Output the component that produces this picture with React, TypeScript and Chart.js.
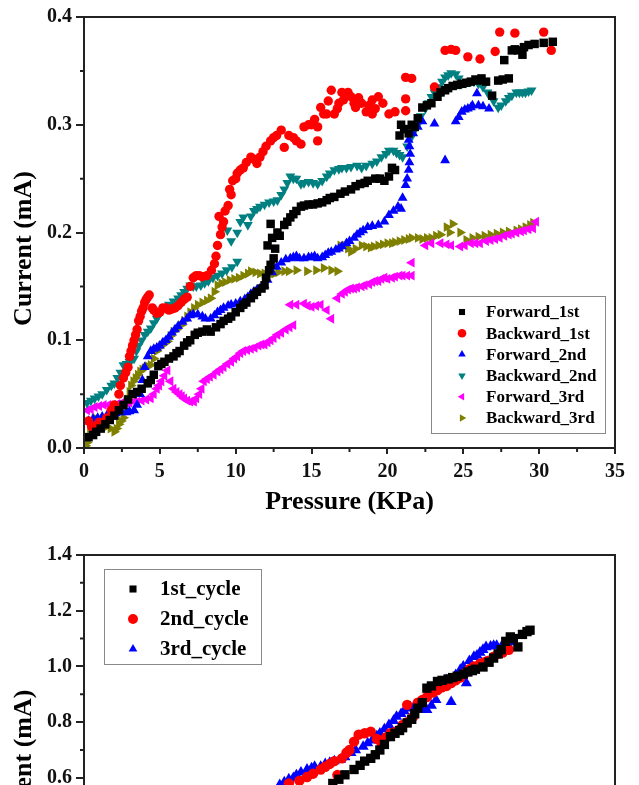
import React, { useEffect, useRef } from 'react';
import { Chart, registerables } from 'chart.js';

Chart.register(...registerables);

type Pt = [number, number];

// ---------- Top chart data (Pressure KPa, Current mA) ----------
const forward1st: Pt[] = [
  [0.3, 0.01], [0.8, 0.015], [1.4, 0.022], [2.0, 0.03], [2.6, 0.04], [3.2, 0.05], [3.8, 0.055], [4.2, 0.06],
  [4.6, 0.068], [4.9, 0.076], [5.3, 0.08], [5.9, 0.085], [6.3, 0.09], [6.6, 0.095], [7.0, 0.1], [7.3, 0.105],
  [7.8, 0.108], [8.35, 0.108], [8.7, 0.112], [9.0, 0.115], [9.5, 0.12], [10.0, 0.126], [10.3, 0.13], [10.7, 0.135],
  [11.0, 0.139], [11.4, 0.145], [11.9, 0.151], [12.2, 0.165], [12.5, 0.176], [12.1, 0.188], [12.4, 0.195], [12.75, 0.2],
  [13.2, 0.207], [12.3, 0.208], [13.6, 0.214], [14.0, 0.22], [14.3, 0.224], [14.8, 0.226], [15.4, 0.227], [16.0, 0.23],
  [16.5, 0.233], [16.9, 0.236], [17.6, 0.24], [18.2, 0.245], [18.7, 0.248], [19.2, 0.25], [19.8, 0.248], [20.5, 0.258],
  [20.8, 0.29], [20.9, 0.3], [21.4, 0.292], [21.8, 0.298], [22.3, 0.316], [22.9, 0.32], [23.3, 0.326], [23.8, 0.332],
  [24.3, 0.336], [24.9, 0.338], [25.5, 0.34], [26.0, 0.341], [26.5, 0.34], [26.9, 0.327], [27.3, 0.341], [28.0, 0.343],
  [27.7, 0.36], [28.2, 0.369], [28.6, 0.369], [28.9, 0.365], [29.7, 0.375], [30.9, 0.377],
  [0.6, 0.012], [1.1, 0.018], [1.7, 0.026], [2.3, 0.035], [2.9, 0.045], [3.5, 0.052], [4.4, 0.063], [5.1, 0.078],
  [5.6, 0.083], [6.1, 0.088], [6.8, 0.098], [7.5, 0.107], [8.1, 0.11], [9.2, 0.118], [9.7, 0.122], [10.5, 0.133],
  [11.2, 0.142], [11.7, 0.148], [12.0, 0.158], [12.3, 0.17], [12.6, 0.185], [12.9, 0.197], [13.4, 0.21], [13.8, 0.217],
  [14.5, 0.225], [15.1, 0.226], [15.7, 0.228], [16.2, 0.232], [17.2, 0.238], [17.9, 0.243], [18.5, 0.246], [19.5, 0.25],
  [20.1, 0.252], [20.3, 0.26], [21.1, 0.296], [21.6, 0.3], [22.0, 0.306], [22.6, 0.318], [23.5, 0.33], [24.0, 0.334],
  [24.6, 0.337], [25.2, 0.339], [25.8, 0.342], [26.2, 0.343], [27.6, 0.342], [28.4, 0.37], [29.0, 0.372], [29.3, 0.374],
  [30.3, 0.376],
];

const backward1st: Pt[] = [
  [0.3, 0.025], [0.8, 0.02], [1.3, 0.022], [1.8, 0.035], [2.3, 0.05], [2.6, 0.065], [2.9, 0.075], [3.1, 0.09],
  [3.3, 0.1], [3.5, 0.11], [3.7, 0.122], [3.9, 0.13], [4.1, 0.138], [4.3, 0.142], [4.5, 0.13], [4.8, 0.125],
  [5.2, 0.13], [5.6, 0.128], [6.0, 0.13], [6.4, 0.135], [6.8, 0.14], [7.2, 0.158], [7.6, 0.16], [8.1, 0.16],
  [8.6, 0.171], [8.8, 0.188], [9.0, 0.198], [9.2, 0.21], [8.9, 0.215], [9.5, 0.225], [9.7, 0.235], [9.8, 0.248],
  [10.1, 0.255], [10.5, 0.26], [11.0, 0.27], [11.4, 0.264], [11.8, 0.275], [12.3, 0.285], [12.7, 0.29], [13.0, 0.295],
  [13.2, 0.279], [13.8, 0.288], [14.3, 0.282], [14.5, 0.298], [15.0, 0.3], [15.4, 0.298], [15.6, 0.316], [15.4, 0.285],
  [16.0, 0.31], [16.3, 0.332], [16.5, 0.31], [16.8, 0.32], [17.1, 0.323], [17.4, 0.33], [17.6, 0.326], [17.9, 0.316],
  [18.3, 0.32], [18.6, 0.312], [19.0, 0.323], [19.0, 0.31], [19.4, 0.326], [20.1, 0.31], [21.2, 0.324], [21.2, 0.313],
  [21.2, 0.344], [21.6, 0.343], [23.1, 0.335], [23.8, 0.369], [24.2, 0.37], [24.5, 0.369], [25.3, 0.363], [26.1, 0.361],
  [27.1, 0.368], [27.4, 0.386], [28.4, 0.385], [30.3, 0.386], [30.8, 0.369],
  [0.5, 0.02], [1.0, 0.024], [1.5, 0.028], [2.0, 0.04], [2.4, 0.058], [2.75, 0.07], [3.0, 0.085], [3.2, 0.095],
  [3.4, 0.105], [3.6, 0.118], [3.8, 0.127], [4.0, 0.135], [4.2, 0.14], [4.6, 0.128], [5.0, 0.126], [5.4, 0.13],
  [5.8, 0.129], [6.2, 0.132], [6.6, 0.138], [7.0, 0.15], [7.4, 0.16], [7.8, 0.159], [8.4, 0.165], [8.7, 0.178],
  [9.1, 0.205], [9.3, 0.22], [9.6, 0.24], [10.0, 0.25], [10.3, 0.258], [10.7, 0.265], [11.2, 0.268], [11.6, 0.27],
  [12.0, 0.28], [12.5, 0.288], [13.5, 0.29], [14.0, 0.285], [14.8, 0.3], [15.2, 0.305], [15.8, 0.31], [16.1, 0.322],
  [16.7, 0.315], [17.0, 0.33], [17.8, 0.32], [18.1, 0.325], [18.8, 0.318], [19.2, 0.315], [19.7, 0.32], [20.5, 0.312],
];

const forward2nd: Pt[] = [
  [0.3, 0.025], [0.9, 0.028], [1.5, 0.03], [2.1, 0.032], [2.8, 0.033], [3.3, 0.035], [3.7, 0.05], [4.0, 0.075],
  [4.4, 0.09], [4.8, 0.093], [5.2, 0.098], [5.6, 0.103], [6.0, 0.11], [6.5, 0.117], [7.0, 0.123], [7.5, 0.124],
  [8.0, 0.12], [8.35, 0.12], [8.8, 0.126], [9.2, 0.13], [9.7, 0.133], [10.3, 0.136], [10.8, 0.14], [11.2, 0.145],
  [11.6, 0.148], [11.9, 0.151], [12.4, 0.163], [13.0, 0.172], [13.6, 0.176], [14.0, 0.178], [14.5, 0.176], [15.0, 0.177],
  [15.4, 0.176], [15.9, 0.179], [16.3, 0.182], [16.8, 0.185], [17.3, 0.19], [17.8, 0.195], [18.2, 0.2], [18.7, 0.205],
  [19.4, 0.207], [20.1, 0.216], [20.7, 0.224], [20.9, 0.222], [21.2, 0.244], [21.4, 0.258], [21.5, 0.273], [21.4, 0.286],
  [22.0, 0.298], [22.3, 0.303], [23.1, 0.301], [23.8, 0.267], [24.5, 0.303], [24.9, 0.312], [25.3, 0.315], [25.6, 0.318],
  [26.0, 0.318], [26.7, 0.315], [25.9, 0.329],
  [0.6, 0.027], [1.2, 0.029], [1.8, 0.031], [2.5, 0.033], [3.0, 0.034], [3.5, 0.04], [3.85, 0.063], [4.2, 0.085],
  [4.6, 0.092], [5.0, 0.095], [5.4, 0.1], [5.8, 0.107], [6.2, 0.113], [6.8, 0.12], [7.2, 0.124], [7.8, 0.122],
  [8.6, 0.123], [9.0, 0.128], [9.5, 0.132], [10.0, 0.134], [10.6, 0.138], [11.0, 0.143], [11.4, 0.147], [12.1, 0.156],
  [12.7, 0.168], [13.3, 0.175], [13.8, 0.177], [14.2, 0.176], [14.8, 0.177], [15.2, 0.178], [15.7, 0.177], [16.1, 0.181],
  [16.6, 0.184], [17.0, 0.187], [17.5, 0.192], [18.0, 0.198], [18.4, 0.202], [19.0, 0.206], [19.8, 0.21], [20.4, 0.22],
  [21.0, 0.232], [21.3, 0.25], [21.45, 0.265], [21.45, 0.28], [21.7, 0.292], [24.7, 0.307], [25.1, 0.314], [25.5, 0.316],
  [26.3, 0.317],
];

const backward2nd: Pt[] = [
  [0.2, 0.042], [0.7, 0.046], [1.2, 0.05], [1.8, 0.058], [2.2, 0.065], [2.6, 0.077], [3.0, 0.08], [3.3, 0.083],
  [3.6, 0.095], [4.0, 0.105], [4.4, 0.111], [4.8, 0.12], [5.1, 0.127], [5.6, 0.133], [6.2, 0.139], [6.6, 0.145],
  [7.0, 0.151], [7.4, 0.15], [7.7, 0.151], [8.2, 0.155], [8.8, 0.16], [9.4, 0.165], [10.1, 0.173], [9.7, 0.192],
  [10.1, 0.2], [9.45, 0.202], [10.5, 0.214], [10.8, 0.207], [11.2, 0.22], [11.6, 0.224], [12.2, 0.228], [12.75, 0.23],
  [13.2, 0.24], [13.6, 0.252], [14.0, 0.25], [14.3, 0.245], [14.8, 0.247], [15.4, 0.245], [16.0, 0.252], [16.5, 0.258],
  [17.0, 0.26], [17.6, 0.261], [18.3, 0.26], [19.0, 0.264], [19.6, 0.27], [20.1, 0.276], [20.6, 0.274], [21.0, 0.27],
  [21.6, 0.289], [22.0, 0.3], [22.5, 0.315], [22.9, 0.326], [23.4, 0.335], [23.8, 0.344], [24.2, 0.348], [24.5, 0.347],
  [24.9, 0.338], [25.5, 0.34], [26.0, 0.338], [26.6, 0.33], [27.3, 0.316], [27.8, 0.322], [28.2, 0.327], [28.7, 0.33],
  [29.1, 0.33], [29.5, 0.332],
  [0.45, 0.044], [0.95, 0.048], [1.5, 0.054], [2.0, 0.06], [2.4, 0.07], [2.8, 0.078], [3.15, 0.082], [3.45, 0.09],
  [3.8, 0.1], [4.2, 0.108], [4.6, 0.116], [4.95, 0.124], [5.35, 0.13], [5.9, 0.136], [6.4, 0.142], [6.8, 0.148],
  [7.2, 0.15], [7.95, 0.153], [8.5, 0.158], [9.1, 0.162], [9.75, 0.168], [10.3, 0.21], [11.0, 0.215], [11.4, 0.222],
  [11.9, 0.226], [12.5, 0.229], [13.0, 0.235], [13.4, 0.246], [13.8, 0.25], [14.5, 0.246], [15.1, 0.246], [15.7, 0.248],
  [16.2, 0.255], [16.8, 0.259], [17.3, 0.26], [18.0, 0.262], [18.6, 0.262], [19.3, 0.266], [19.9, 0.273], [20.4, 0.276],
  [20.8, 0.272], [21.3, 0.28], [21.8, 0.295], [22.2, 0.308], [22.7, 0.32], [23.1, 0.33], [23.6, 0.34], [24.0, 0.346],
  [24.7, 0.343], [25.2, 0.339], [25.7, 0.34], [26.3, 0.335], [27.0, 0.322], [27.5, 0.318], [28.0, 0.325], [28.5, 0.33],
  [28.9, 0.33], [29.3, 0.331],
];

const forward3rd: Pt[] = [
  [0.2, 0.035], [0.7, 0.038], [1.3, 0.04], [1.9, 0.04], [2.5, 0.042], [3.0, 0.042], [3.3, 0.043], [3.8, 0.044],
  [4.4, 0.046], [4.8, 0.055], [5.1, 0.062], [5.5, 0.072], [5.9, 0.055], [6.3, 0.05], [6.6, 0.046], [7.0, 0.043],
  [7.25, 0.043], [7.6, 0.05], [7.9, 0.062], [8.3, 0.066], [8.8, 0.071], [9.2, 0.075], [9.7, 0.08], [10.1, 0.085],
  [10.5, 0.09], [11.0, 0.092], [11.5, 0.095], [11.9, 0.096], [12.3, 0.1], [12.75, 0.105], [13.3, 0.11], [13.8, 0.114],
  [13.6, 0.133], [14.5, 0.134], [15.0, 0.131], [15.6, 0.133], [16.0, 0.128], [16.3, 0.12], [16.7, 0.139], [17.2, 0.145],
  [17.6, 0.148], [18.0, 0.149], [18.5, 0.151], [19.0, 0.154], [19.4, 0.155], [19.8, 0.158], [20.3, 0.158], [20.8, 0.16],
  [21.3, 0.16], [21.6, 0.16], [21.6, 0.172], [22.5, 0.188], [23.5, 0.19], [24.2, 0.188], [24.8, 0.187], [25.5, 0.19],
  [26.1, 0.19], [26.8, 0.193], [27.4, 0.195], [28.0, 0.198], [28.5, 0.2], [29.0, 0.202], [29.6, 0.204], [29.8, 0.21],
  [0.45, 0.036], [1.0, 0.039], [1.6, 0.04], [2.2, 0.041], [2.8, 0.042], [3.5, 0.043], [4.1, 0.045], [4.6, 0.05],
  [4.95, 0.058], [5.3, 0.067], [5.7, 0.062], [6.1, 0.052], [6.45, 0.048], [6.8, 0.044], [7.4, 0.046], [7.75, 0.055],
  [8.1, 0.064], [8.55, 0.068], [9.0, 0.073], [9.45, 0.078], [9.9, 0.083], [10.3, 0.088], [10.75, 0.091], [11.25, 0.093],
  [11.7, 0.096], [12.1, 0.098], [12.5, 0.102], [13.0, 0.107], [13.55, 0.112], [14.0, 0.133], [14.75, 0.132], [15.3, 0.132],
  [17.0, 0.143], [17.4, 0.147], [17.8, 0.148], [18.3, 0.15], [18.8, 0.152], [19.2, 0.155], [19.6, 0.157], [20.0, 0.157],
  [20.5, 0.159], [21.0, 0.16], [22.9, 0.19], [23.9, 0.189], [25.1, 0.188], [25.8, 0.19], [26.5, 0.192], [27.1, 0.194],
  [27.7, 0.197], [28.2, 0.199], [28.8, 0.201], [29.3, 0.203],
];

const backward3rd: Pt[] = [
  [0.2, 0.005], [0.4, 0.015], [0.7, 0.028], [1.1, 0.022], [1.5, 0.02], [2.0, 0.015], [2.3, 0.022], [2.6, 0.028],
  [2.9, 0.045], [3.1, 0.058], [3.4, 0.065], [3.7, 0.071], [4.0, 0.074], [4.4, 0.077], [4.8, 0.09], [5.1, 0.095],
  [5.5, 0.099], [5.9, 0.108], [6.4, 0.114], [6.8, 0.122], [7.25, 0.13], [7.8, 0.135], [8.35, 0.139], [8.8, 0.151],
  [9.3, 0.154], [9.9, 0.157], [10.5, 0.16], [11.0, 0.164], [11.6, 0.162], [12.3, 0.161], [12.8, 0.163], [13.2, 0.164],
  [14.0, 0.165], [14.7, 0.164], [15.3, 0.165], [15.8, 0.167], [16.3, 0.165], [16.7, 0.164], [16.9, 0.188], [17.2, 0.188],
  [17.6, 0.182], [18.3, 0.188], [18.9, 0.186], [19.4, 0.188], [20.0, 0.19], [20.5, 0.191], [21.1, 0.193], [21.6, 0.195],
  [22.3, 0.194], [22.9, 0.195], [23.5, 0.198], [23.9, 0.205], [24.3, 0.208], [24.8, 0.2], [25.2, 0.193], [26.0, 0.196],
  [26.8, 0.198], [27.6, 0.2], [28.5, 0.202], [29.1, 0.205], [29.6, 0.209],
  [0.1, 0.002], [0.3, 0.01], [0.55, 0.022], [0.9, 0.025], [1.3, 0.021], [1.75, 0.018], [2.15, 0.018], [2.45, 0.025],
  [2.75, 0.035], [3.0, 0.052], [3.25, 0.062], [3.55, 0.068], [3.85, 0.073], [4.2, 0.076], [4.6, 0.083], [4.95, 0.093],
  [5.3, 0.097], [5.7, 0.104], [6.1, 0.11], [6.6, 0.118], [7.0, 0.126], [7.5, 0.133], [8.1, 0.137], [8.6, 0.145],
  [9.05, 0.153], [9.6, 0.156], [10.2, 0.158], [10.8, 0.162], [11.3, 0.163], [11.9, 0.162], [12.55, 0.162], [13.5, 0.164],
  [17.4, 0.185], [17.9, 0.185], [18.6, 0.187], [19.1, 0.187], [19.7, 0.189], [20.3, 0.19], [20.8, 0.192], [21.4, 0.194],
  [22.0, 0.195], [22.6, 0.195], [23.2, 0.197], [24.1, 0.2], [25.6, 0.195], [26.4, 0.197], [27.2, 0.199], [28.0, 0.201],
  [28.8, 0.203], [29.4, 0.207],
];

// ---------- Bottom chart data ----------
const cycle1st: Pt[] = [
  [16.4, 0.58], [17.2, 0.611], [17.8, 0.63], [18.5, 0.66], [19.2, 0.683], [19.8, 0.72], [20.2, 0.748], [20.8, 0.77],
  [21.3, 0.797], [21.8, 0.83], [22.3, 0.87], [22.6, 0.922], [23.3, 0.946], [24.0, 0.955], [24.6, 0.965], [25.3, 0.98],
  [25.8, 0.99], [26.3, 0.998], [27.0, 1.03], [27.5, 1.06], [28.1, 1.106], [28.6, 1.07], [28.9, 1.115], [29.2, 1.125],
  [29.4, 1.13],
  [16.8, 0.595], [18.2, 0.645], [18.9, 0.67], [19.5, 0.7], [20.5, 0.76], [21.0, 0.78], [21.6, 0.81], [22.0, 0.85],
  [22.9, 0.93], [23.6, 0.95], [24.3, 0.96], [25.0, 0.972], [25.6, 0.985], [26.7, 1.015], [27.3, 1.045], [27.8, 1.09],
  [28.3, 1.1],
];

const cycle2nd: Pt[] = [
  [13.5, 0.58], [14.7, 0.603], [15.6, 0.63], [16.2, 0.65], [16.7, 0.61], [17.0, 0.67], [17.5, 0.7], [18.1, 0.755],
  [18.9, 0.766], [19.6, 0.725], [20.2, 0.76], [20.8, 0.773], [21.3, 0.8], [21.7, 0.82], [21.3, 0.862], [22.3, 0.88],
  [23.0, 0.906], [23.6, 0.925], [24.2, 0.94], [24.8, 0.96], [25.4, 0.99], [26.1, 1.01], [26.6, 1.02], [27.0, 1.035],
  [27.6, 1.05], [28.0, 1.06],
  [14.2, 0.59], [15.1, 0.615], [15.9, 0.64], [16.5, 0.66], [17.3, 0.69], [17.8, 0.73], [18.5, 0.76], [19.3, 0.74],
  [19.9, 0.745], [20.5, 0.765], [21.0, 0.79], [22.0, 0.87], [22.6, 0.89], [23.3, 0.915], [23.9, 0.93], [24.5, 0.95],
  [25.1, 0.975], [25.7, 1.0], [26.4, 1.015], [27.3, 1.045],
];

const cycle3rd: Pt[] = [
  [12.9, 0.575], [13.5, 0.595], [14.0, 0.61], [14.7, 0.63], [15.2, 0.64], [15.6, 0.64], [16.2, 0.655], [16.9, 0.665],
  [17.6, 0.69], [18.4, 0.712], [19.0, 0.735], [19.5, 0.76], [20.1, 0.79], [20.6, 0.82], [21.1, 0.84], [21.5, 0.855],
  [22.0, 0.85], [22.6, 0.844], [23.2, 0.88], [23.9, 0.952], [24.2, 0.873], [24.8, 0.988], [25.2, 0.94], [25.7, 1.035],
  [26.1, 1.05], [26.5, 1.07], [27.0, 1.075], [27.5, 1.07], [27.9, 1.084], [28.3, 1.09],
  [13.2, 0.585], [13.8, 0.6], [14.3, 0.62], [15.0, 0.635], [15.9, 0.65], [16.5, 0.66], [17.2, 0.675], [17.9, 0.7],
  [18.7, 0.725], [19.3, 0.75], [19.8, 0.775], [20.4, 0.805], [20.9, 0.83], [21.3, 0.85], [21.8, 0.86], [22.3, 0.845],
  [22.9, 0.86], [23.5, 0.93], [24.5, 0.97], [25.0, 1.0], [25.4, 1.02], [25.9, 1.04], [26.3, 1.06], [26.8, 1.072],
  [27.2, 1.075], [27.7, 1.078], [28.1, 1.088],
];

// ---------- Ticks ----------
const xTicks = [0, 5, 10, 15, 20, 25, 30, 35];
const xMinor = [2.5, 7.5, 12.5, 17.5, 22.5, 27.5, 32.5];
const topYTicks = [0, 0.1, 0.2, 0.3, 0.4];
const topYMinor = [0.05, 0.15, 0.25, 0.35];
const botYTicks = [0, 0.2, 0.4, 0.6, 0.8, 1.0, 1.2, 1.4];
const botYMinor = [0.1, 0.3, 0.5, 0.7, 0.9, 1.1, 1.3];

const SERIF = "'Liberation Serif', 'Times New Roman', serif";

function drawMarker(ctx: CanvasRenderingContext2D, style: string, x: number, y: number, r: number, rot: number, color: string) {
  ctx.save();
  ctx.fillStyle = color;
  ctx.translate(x, y);
  ctx.rotate((rot * Math.PI) / 180);
  ctx.beginPath();
  if (style === 'rect') {
    const s = r * Math.SQRT1_2;
    ctx.rect(-s, -s, 2 * s, 2 * s);
  } else if (style === 'circle') {
    ctx.arc(0, 0, r, 0, Math.PI * 2);
  } else {
    for (let i = 0; i < 3; i++) {
      const a = (i * 2 * Math.PI) / 3;
      const px = Math.sin(a) * r;
      const py = -Math.cos(a) * r;
      if (i === 0) ctx.moveTo(px, py);
      else ctx.lineTo(px, py);
    }
    ctx.closePath();
  }
  ctx.fill();
  ctx.restore();
}

const originPlugin = {
  id: 'origin',
  afterDraw(chart: any) {
    const o = chart.options.plugins.origin;
    if (!o) return;
    const { ctx, chartArea: a } = chart;
    const xs = chart.scales.x;
    const ys = chart.scales.y;
    ctx.save();
    ctx.strokeStyle = '#222';
    ctx.lineWidth = 2;
    ctx.strokeRect(a.left, a.top, a.right - a.left, a.bottom - a.top);
    ctx.beginPath();
    for (const v of o.xMinor) {
      const px = xs.getPixelForValue(v);
      ctx.moveTo(px, a.bottom);
      ctx.lineTo(px, a.bottom + 4);
    }
    for (const v of o.yMinor) {
      const py = ys.getPixelForValue(v);
      ctx.moveTo(a.left, py);
      ctx.lineTo(a.left - 4, py);
    }
    ctx.stroke();
    ctx.save();
    ctx.fillStyle = '#000';
    ctx.font = `bold ${o.yTitleSize}px ${SERIF}`;
    ctx.textAlign = 'center';
    ctx.textBaseline = 'middle';
    ctx.translate(o.yTitleX, (a.top + a.bottom) / 2 + o.yTitleDy);
    ctx.rotate(-Math.PI / 2);
    ctx.fillText(o.yTitle, 0, 0);
    ctx.restore();
    const L = o.legend;
    ctx.fillStyle = '#fff';
    ctx.fillRect(L.left, L.top, L.width, L.height);
    ctx.strokeStyle = '#888';
    ctx.lineWidth = 1;
    ctx.strokeRect(L.left + 0.5, L.top + 0.5, L.width, L.height);
    ctx.font = `bold ${L.fontSize}px ${SERIF}`;
    ctx.textAlign = 'left';
    ctx.textBaseline = 'middle';
    chart.data.datasets.forEach((ds: any, i: number) => {
      const y = L.firstRow + i * L.rowGap;
      drawMarker(ctx, ds.pointStyle, L.markerX, y, L.markerR, ds.pointRotation || 0, ds.backgroundColor);
      ctx.fillStyle = '#000';
      ctx.fillText(ds.label, L.textX, y + 1);
    });
    ctx.restore();
  },
};

function makeDataset(label: string, pts: Pt[], color: string, style: string, rotation: number, radius: number) {
  return {
    label,
    data: pts.map(([x, y]) => ({ x, y })),
    backgroundColor: color,
    borderColor: color,
    borderWidth: 0,
    pointBorderWidth: 0,
    pointStyle: style,
    pointRotation: rotation,
    pointRadius: radius,
    pointHoverRadius: radius,
    showLine: false,
    clip: 0,
  };
}

function makeOptions(cfg: any) {
  const tickFont = { family: SERIF, size: 20, weight: 'bold' as const };
  return {
    responsive: false,
    animation: false as const,
    devicePixelRatio: 1,
    events: [],
    layout: { padding: { left: 0, right: 24, top: cfg.padTop, bottom: 0 } },
    plugins: {
      legend: { display: false },
      tooltip: { enabled: false },
      origin: cfg.origin,
    },
    scales: {
      x: {
        type: 'linear' as const,
        min: 0,
        max: 35,
        afterBuildTicks: (s: any) => {
          s.ticks = xTicks.map((value) => ({ value }));
        },
        afterFit: (s: any) => {
          s.height = cfg.xHeight;
        },
        ticks: {
          autoSkip: false,
          maxRotation: 0,
          color: '#111',
          font: tickFont,
          padding: 6,
          callback: (v: any) => String(v),
        },
        grid: { drawOnChartArea: false, drawTicks: true, tickLength: 6, color: '#222', lineWidth: 2 },
        border: { display: false },
        title: {
          display: true,
          text: 'Pressure (KPa)',
          color: '#000',
          font: { family: SERIF, size: 26, weight: 'bold' as const },
          padding: { top: 0, bottom: 7 },
        },
      },
      y: {
        type: 'linear' as const,
        min: cfg.yMin,
        max: cfg.yMax,
        afterBuildTicks: (s: any) => {
          s.ticks = cfg.yTicks.map((value: number) => ({ value }));
        },
        afterFit: (s: any) => {
          s.width = 84;
        },
        ticks: {
          autoSkip: false,
          color: '#111',
          font: tickFont,
          padding: 4,
          callback: (v: any) => Number(v).toFixed(1),
        },
        grid: { drawOnChartArea: false, drawTicks: true, tickLength: 8, color: '#222', lineWidth: 2 },
        border: { display: false },
      },
    },
  };
}

export default function App() {
  const topRef = useRef<HTMLCanvasElement | null>(null);
  const botRef = useRef<HTMLCanvasElement | null>(null);

  useEffect(() => {
    const top = new Chart(topRef.current as HTMLCanvasElement, {
      type: 'scatter',
      data: {
        datasets: [
          makeDataset('Forward_1st', forward1st, '#000000', 'rect', 0, 6.0),
          makeDataset('Backward_1st', backward1st, '#ff0000', 'circle', 0, 4.7),
          makeDataset('Forward_2nd', forward2nd, '#0000ff', 'triangle', 0, 5.7),
          makeDataset('Backward_2nd', backward2nd, '#008080', 'triangle', 180, 5.7),
          makeDataset('Forward_3rd', forward3rd, '#ff00ff', 'triangle', 270, 5.7),
          makeDataset('Backward_3rd', backward3rd, '#808000', 'triangle', 90, 5.7),
        ] as any,
      },
      options: makeOptions({
        padTop: 17,
        xHeight: 77,
        yMin: 0,
        yMax: 0.4,
        yTicks: topYTicks,
        origin: {
          xMinor,
          yMinor: topYMinor,
          yTitle: 'Current (mA)',
          yTitleSize: 26,
          yTitleX: 24,
          yTitleDy: 16,
          legend: {
            left: 431, top: 296, width: 174, height: 137,
            firstRow: 312, rowGap: 21.2, markerX: 462, textX: 486, markerR: 4.3, fontSize: 17,
          },
        },
      }) as any,
      plugins: [originPlugin],
    });

    const bot = new Chart(botRef.current as HTMLCanvasElement, {
      type: 'scatter',
      data: {
        datasets: [
          makeDataset('1st_cycle', cycle1st, '#000000', 'rect', 0, 6.6),
          makeDataset('2nd_cycle', cycle2nd, '#ff0000', 'circle', 0, 5.2),
          makeDataset('3rd_cycle', cycle3rd, '#0000ff', 'triangle', 0, 6.4),
        ] as any,
      },
      options: makeOptions({
        padTop: 25,
        xHeight: 105,
        yMin: 0,
        yMax: 1.4,
        yTicks: botYTicks,
        origin: {
          xMinor,
          yMinor: botYMinor,
          yTitle: 'Current (mA)',
          yTitleSize: 26,
          yTitleX: 24,
          yTitleDy: 17,
          legend: {
            left: 104, top: 39, width: 157, height: 95,
            firstRow: 59, rowGap: 30, markerX: 133, textX: 160, markerR: 5, fontSize: 21,
          },
        },
      }) as any,
      plugins: [originPlugin],
    });

    return () => {
      top.destroy();
      bot.destroy();
    };
  }, []);

  return (
    <div style={{ position: 'absolute', left: 0, top: 0, width: 639, height: 785, overflow: 'hidden', background: '#fff' }}>
      <canvas ref={topRef} width={639} height={525} style={{ position: 'absolute', left: 0, top: 0, width: 639, height: 525 }} />
      <canvas ref={botRef} width={639} height={520} style={{ position: 'absolute', left: 0, top: 530, width: 639, height: 520 }} />
    </div>
  );
}
